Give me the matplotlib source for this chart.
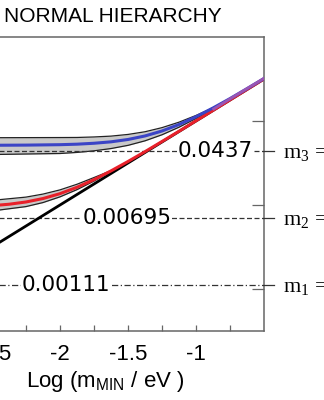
import numpy as np
import matplotlib
matplotlib.use("Agg")
import matplotlib.pyplot as plt
import matplotlib.transforms as mtransforms

plt.rcParams['font.family'] = ['Liberation Sans', 'DejaVu Sans']
plt.rcParams['mathtext.default'] = 'regular'

# ---- data (log10 of masses in eV) ----
x_min = [-3.0, -0.5]
y_lightest = [-3.0, -0.5]

x_m2 = [-3.0, -2.75, -2.5, -2.375, -2.25, -2.125, -2.0, -1.875, -1.75, -1.625,
        -1.5, -1.375, -1.25, -1.125, -1.0, -0.875, -0.75, -0.5]
y_m2 = [-2.03, -2.024, -2.008, -1.991, -1.964, -1.923, -1.865, -1.789, -1.698, -1.594,
        -1.482, -1.365, -1.244, -1.122, -0.998, -0.874, -0.749, -0.5]

x_m3 = [-3.0, -2.5, -2.25, -2.0, -1.875, -1.75, -1.625, -1.5, -1.375, -1.25,
        -1.125, -1.0, -0.875, -0.75, -0.625, -0.5]
y_m3 = [-1.29, -1.289, -1.287, -1.282, -1.276, -1.265, -1.248, -1.22, -1.178, -1.119,
        -1.042, -0.949, -0.845, -0.733, -0.615, -0.494]

x_m3_band = [-3.0, -2.5, -2.0, -1.875, -1.75, -1.625, -1.5, -1.375, -1.25, -1.125,
             -1.0, -0.9, -0.8]
y_m3_band_hi = [-1.20, -1.199, -1.197, -1.196, -1.19, -1.18, -1.16, -1.128, -1.079,
                -1.014, -0.934, -0.861, -0.778]
y_m3_band_lo = [-1.40, -1.399, -1.387, -1.374, -1.355, -1.328, -1.29, -1.236, -1.164,
                -1.074, -0.969, -0.875, -0.778]

x_m2_band = [-3.0, -2.5, -2.25, -2.125, -2.0, -1.875, -1.75, -1.675, -1.6]
y_m2_band_hi = [-1.965, -1.945, -1.906, -1.870, -1.820, -1.753, -1.673, -1.624, -1.572]
y_m2_band_lo = [-2.095, -2.071, -2.019, -1.971, -1.903, -1.817, -1.715, -1.645, -1.572]

x_overlap = [-0.87, -0.75, -0.625, -0.5]
y_overlap = [-0.857, -0.737, -0.614, -0.492]

ref_values = [0.0437, 0.00695, 0.00111]
ref_labels = ["0.0437", "0.00695", "0.00111"]
ref_label_x = [-0.86, -1.507, -1.956]
ref_names = ["$m_3$ =", "$m_2$ =", "$m_1$ ="]
ref_styles = [(0, (4, 2)), (0, (4, 2)), (0, (5, 2, 1, 2))]

x_ticks = [-3.0, -2.5, -2.0, -1.5, -1.0]
x_ticklabels = ["-3", "-2.5", "-2", "-1.5", "-1"]
x_minor = [-2.75, -2.25, -1.75, -1.25, -0.75]
y_ticks = [-3, -2, -1]

W, H = 324, 400
fig = plt.figure(figsize=(W / 100, H / 100), dpi=100)
ax = fig.add_axes([-76 / W, 69 / H, 340 / W, 294 / H])
ax.set_xlim(-3.0, -0.5)
ax.set_ylim(-3.5, 0.0)

# bands
ax.fill_between(x_m3_band, y_m3_band_lo, y_m3_band_hi, color='#c9c9c9', lw=0, zorder=1)
ax.plot(x_m3_band, y_m3_band_hi, color='#222222', lw=0.9, zorder=2)
ax.plot(x_m3_band, y_m3_band_lo, color='#222222', lw=0.9, zorder=2)
ax.fill_between(x_m2_band, y_m2_band_lo, y_m2_band_hi, color='#c9c9c9', lw=0, zorder=1)
ax.plot(x_m2_band, y_m2_band_hi, color='#222222', lw=0.9, zorder=2)
ax.plot(x_m2_band, y_m2_band_lo, color='#222222', lw=0.9, zorder=2)

# reference dashed lines
for v, lab, lx, name, ls in zip(ref_values, ref_labels, ref_label_x, ref_names, ref_styles):
    ly = np.log10(v)
    ax.plot([-3.0, -0.5], [ly, ly], color='#333333', lw=0.9, linestyle=ls, zorder=3)
    ax.plot([-0.5, -0.5 + 10 / 136], [ly, ly], color='#333333', lw=0.9,
            zorder=3, clip_on=False)
    ax.text(lx, ly, lab, ha='center', va='center', fontsize=15.5,
            family='DejaVu Sans', zorder=4,
            bbox=dict(facecolor='white', edgecolor='none', pad=0.5))
    off = mtransforms.ScaledTranslation(0, -0.07, fig.dpi_scale_trans)
    ax.text(-0.5 + 19 / 136, ly, name, ha='left', va='baseline', fontsize=16,
            family='Liberation Serif', transform=ax.transData + off, clip_on=False)

# curves
ax.plot(x_min, y_lightest, color='black', lw=2.0, zorder=5, solid_capstyle='butt')
ax.plot(x_m2, y_m2, color='#e8202a', lw=2.2, zorder=6)
ax.plot(x_m3, y_m3, color='#3b44c6', lw=2.2, zorder=7)
ax.plot(x_overlap, y_overlap, color='#9a55b4', lw=2.0, zorder=8)

# axes styling
for s in ax.spines.values():
    s.set_color('#666666')
    s.set_linewidth(1.1)
ax.set_xticks(x_ticks)
ax.set_xticklabels(x_ticklabels)
ax.set_xticks(x_minor, minor=True)
ax.tick_params(axis='x', which='both', direction='in', length=4.5, width=0.9,
               color='#666666', labelsize=16, pad=9)
ax.yaxis.tick_right()
ax.set_yticks(y_ticks)
ax.set_yticklabels([])
ax.tick_params(axis='y', which='both', direction='in', length=8.5, width=0.9,
               color='#666666')

ax.set_xlabel("Log (m$_{MIN}$ / eV )", fontsize=16)
ax.xaxis.set_label_coords((105 + 76) / 340, -0.13)

fig.text(4 / W, 1 - 16 / H, "NORMAL HIERARCHY", ha='left', va='center', fontsize=15)

fig.savefig("out.png", dpi=100)
